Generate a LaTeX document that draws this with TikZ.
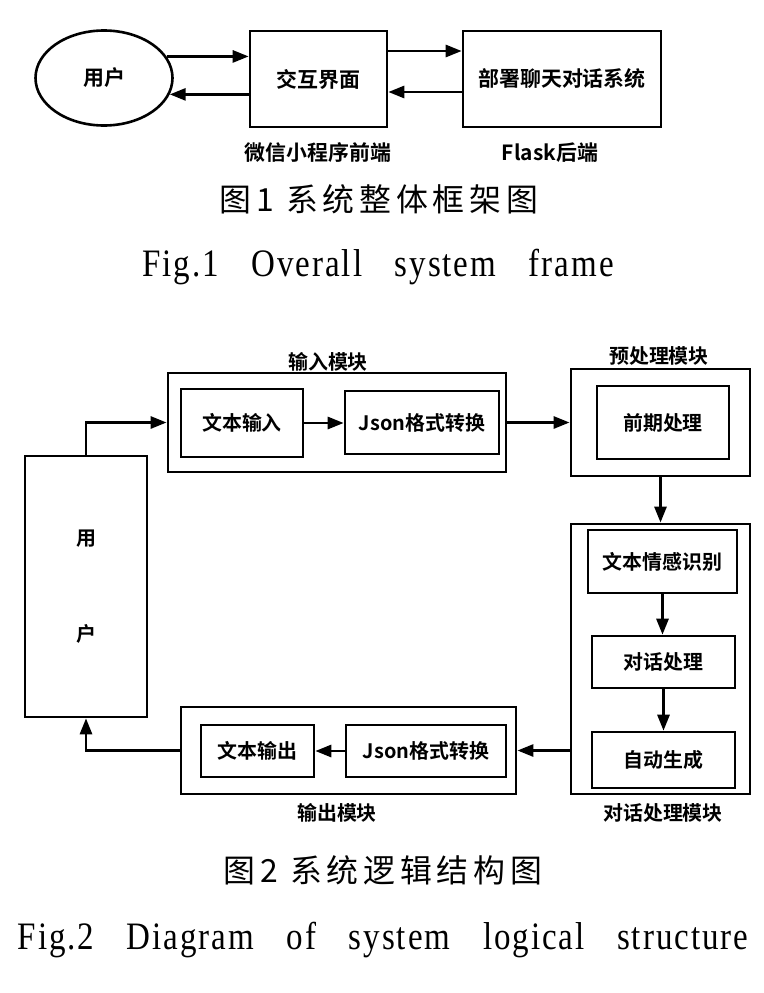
\documentclass[tikz,border=0pt]{standalone}
\usepackage{fontspec}
\usepackage{tikz}
\usetikzlibrary{arrows.meta,shapes.geometric}
\newfontfamily\cjkb{Noto Sans CJK SC Bold}
\newfontfamily\capcjk{Noto Sans CJK SC}[LetterSpace=15]
\newfontfamily\capen{Liberation Serif}[FakeStretch=0.85,LetterSpace=5,WordSpace=3.2]
\newcommand{\bigfnt}{\cjkb\fontsize{21}{25}\selectfont}
\newcommand{\boxfnt}{\cjkb\fontsize{20}{24}\selectfont}
\newcommand{\capfnt}{\capcjk\fontsize{32}{38}\selectfont}
\newcommand{\enfnt}{\capen\fontsize{39}{46}\selectfont}
\tikzset{
  bx/.style={draw, line width=2.6bp, inner sep=0pt, align=center, font=\boxfnt},
  modbx/.style={bx, line width=2.8bp},
  usr/.style={bx, ellipse, font=\bigfnt},
  sysbx/.style={bx, font=\bigfnt},
  lbl/.style={inner sep=0pt, font=\boxfnt},
  capcn/.style={inner sep=0pt, font=\capfnt},
  capeng/.style={inner sep=0pt, font=\enfnt},
  arr/.style={-{Triangle[length=16bp,width=12bp]}, line width=2.8bp},
}
\begin{document}
\begin{tikzpicture}[x=1bp, y=-1bp]
  \useasboundingbox (0,0) rectangle (764,993);
  % Fig. 1
  \node[usr, minimum width=137bp, minimum height=95bp] (user1) at (104,78) {用户};
  \node[sysbx, minimum width=137bp, minimum height=96bp] (ui) at (318.5,79) {交互界面};
  \node[sysbx, minimum width=198bp, minimum height=96bp] (sys) at (562,79) {部署聊天对话系统};
  \node[lbl, font=\bigfnt] (front) at (318,153) {微信小程序前端};
  \node[lbl, font=\bigfnt] (back) at (550,153) {Flask后端};
  \node[capcn] (cap1) at (379,199) {图1\ 系统整体框架图};
  \node[capeng] (cap1en) at (378,267) {Fig.1 Overall system frame};
  \draw[arr] (user1.19) -- (user1.19 -| ui.west);
  \draw[arr] (ui.west |- user1.-14) -- (user1.-14);
  \draw[arr] ([yshift=28bp]ui.east) -- ([yshift=28bp]ui.east -| sys.west);
  \draw[arr] ([yshift=-13bp]sys.west) -- ([yshift=-13bp]sys.west -| ui.east);
  % Fig. 2
  \node[bx, minimum width=122bp, minimum height=261bp] (user2) at (86,586.5) {用\\[72bp]户};
  \node[modbx, minimum width=338bp, minimum height=99bp] (inmod) at (337,422.5) {};
  \node[bx, minimum width=122bp, minimum height=68bp] (txtin) at (242,423) {文本输入};
  \node[bx, minimum width=154bp, minimum height=63bp] (jsonin) at (422,422.5) {Json格式转换};
  \node[lbl] (inlbl) at (328,362) {输入模块};
  \node[modbx, minimum width=179bp, minimum height=107bp] (premod) at (660.5,422.5) {};
  \node[bx, minimum width=132bp, minimum height=73bp] (pre) at (663,422.5) {前期处理};
  \node[lbl] (prelbl) at (659,356) {预处理模块};
  \node[modbx, minimum width=179bp, minimum height=270bp] (dlgmod) at (660.5,659) {};
  \node[bx, minimum width=149bp, minimum height=63bp] (emo) at (662.5,561.5) {文本情感识别};
  \node[bx, minimum width=143bp, minimum height=52bp] (dlg) at (663.5,662) {对话处理};
  \node[bx, minimum width=143bp, minimum height=56bp] (gen) at (663.5,760) {自动生成};
  \node[lbl] (dlglbl) at (663,813) {对话处理模块};
  \node[modbx, minimum width=335bp, minimum height=87bp] (outmod) at (348.5,750.5) {};
  \node[bx, minimum width=113bp, minimum height=52bp] (txtout) at (257.5,751) {文本输出};
  \node[bx, minimum width=160bp, minimum height=52bp] (jsonout) at (426,751) {Json格式转换};
  \node[lbl] (outlbl) at (337,813) {输出模块};
  \node[capcn] (cap2) at (383,870) {图2\ 系统逻辑结构图};
  \node[capeng] (cap2en) at (383,940) {Fig.2 Diagram of system logical structure};
  \draw[arr] (user2.north) |- (inmod.west);
  \draw[arr] (txtin.east) -- (txtin.east -| jsonin.west);
  \draw[arr] (inmod.east) -- (premod.west);
  \draw[arr] (premod.south) -- (dlgmod.north);
  \draw[arr] (emo.south) -- (emo.south |- dlg.north);
  \draw[arr] (dlg.south) -- (dlg.south |- gen.north);
  \draw[arr] (dlgmod.west |- outmod.east) -- (outmod.east);
  \draw[arr] (jsonout.west) -- (jsonout.west -| txtout.east);
  \draw[arr] (outmod.west) -| (user2.south);
\end{tikzpicture}
\end{document}
